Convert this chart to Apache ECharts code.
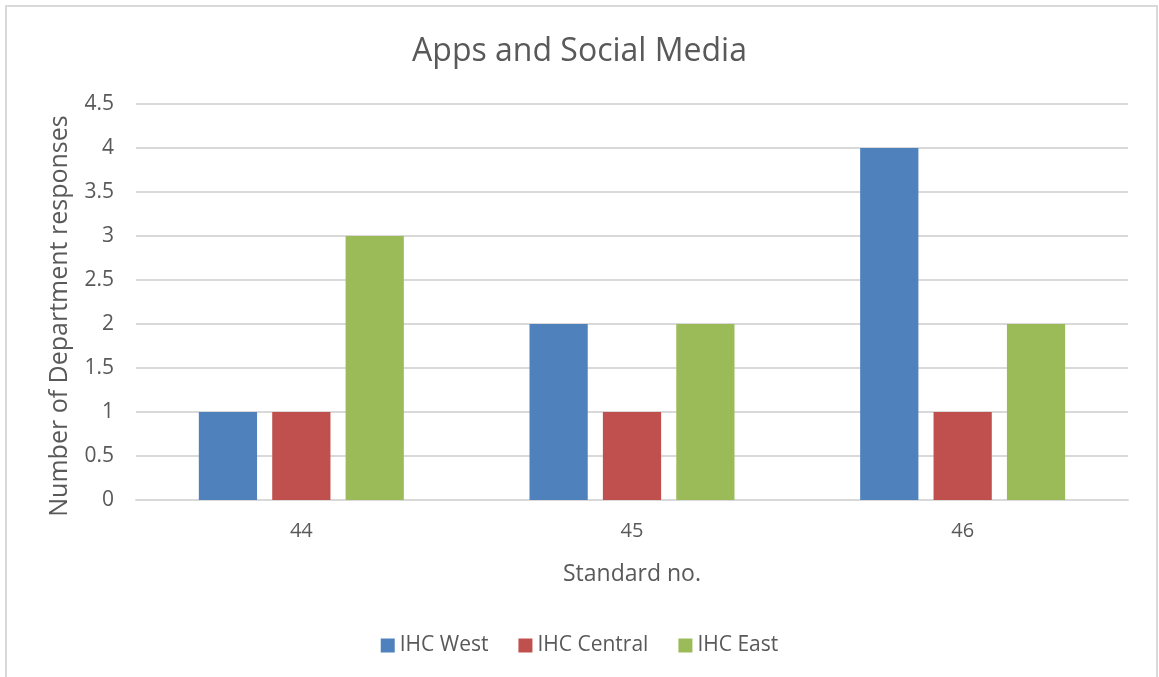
<!DOCTYPE html>
<html><head><meta charset="utf-8">
<script src="https://cdn.jsdelivr.net/npm/echarts@6/dist/echarts.min.js"></script>
<style>html,body{margin:0;padding:0;background:#fff}#c{width:1159px;height:677px}</style>
</head><body><div id="c"></div>
<script>
const categories = ['44', '45', '46'];
const seriesNames = ['IHC West', 'IHC Central', 'IHC East'];
const west = [1, 2, 4];
const central = [1, 1, 1];
const east = [3, 2, 2];
const colors = ['#4f81bd', '#c0504d', '#9bbb59'];
const font = 'Open Sans, Noto Sans, sans-serif';
const chart = echarts.init(document.getElementById('c'));
const txt = '#595959';
chart.setOption({
  animation: false,
  color: colors,
  textStyle: {fontFamily: font},
  graphic: [{type: 'rect', shape: {x: 6, y: 6, width: 1151, height: 690}, style: {fill: 'none', stroke: '#d9d9d9', lineWidth: 2}, silent: true}],
  title: {text: 'Apps and Social Media', left: 'center', top: 31,
    textStyle: {fontFamily: font, fontSize: 32, fontWeight: 'normal', color: txt}},
  legend: {bottom: 16, left: 'center', itemWidth: 14, itemHeight: 14, itemGap: 30, icon: 'rect',
    textStyle: {fontFamily: font, fontSize: 21, color: txt}},
  grid: {left: 136, right: 31, top: 104, bottom: 177},
  xAxis: {type: 'category', data: categories,
    axisLine: {lineStyle: {color: '#d9d9d9', width: 2}}, axisTick: {show: false},
    axisLabel: {fontSize: 20, color: txt, margin: 21},
    name: 'Standard no.', nameLocation: 'middle', nameGap: 63,
    nameTextStyle: {fontSize: 23, color: txt}},
  yAxis: {type: 'value', min: 0, max: 4.5, interval: 0.5,
    axisLine: {show: false}, axisTick: {show: false},
    splitLine: {lineStyle: {color: '#d9d9d9', width: 2}},
    axisLabel: {fontSize: 21, color: txt, margin: 22},
    name: 'Number of Department responses', nameLocation: 'middle', nameGap: 64,
    nameTextStyle: {fontSize: 25, color: txt, padding: [0, 28, 0, 0]}},
  series: [
    {name: seriesNames[0], type: 'bar', data: west, barGap: '26%', barCategoryGap: '38%'},
    {name: seriesNames[1], type: 'bar', data: central, barGap: '26%', barCategoryGap: '38%'},
    {name: seriesNames[2], type: 'bar', data: east, barGap: '26%', barCategoryGap: '38%'}
  ]
});
</script></body></html>
